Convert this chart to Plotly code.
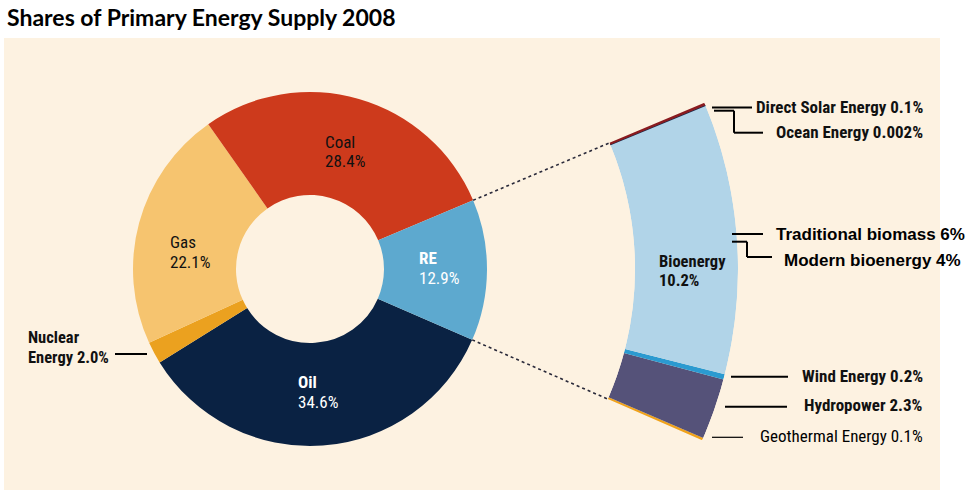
import math
import plotly.graph_objects as go

# ---------------- data ----------------
title_text = "Shares of Primary Energy Supply 2008"

main_labels = ["Oil", "Nuclear Energy", "Gas", "Coal", "RE"]
main_values = [34.6, 2.0, 22.1, 28.4, 12.9]
main_colors = ["#0a2243", "#eba11f", "#f6c46f", "#cd3a1c", "#5da9cf"]

re_labels = ["Geothermal Energy", "Hydropower", "Wind Energy", "Bioenergy", "Ocean Energy", "Direct Solar Energy"]
re_values = [0.1, 2.3, 0.2, 10.2, 0.002, 0.1]
re_colors = ["#f0a21a", "#555279", "#2b9ad0", "#b1d4e8", "#1b2a4a", "#8a1b1f"]

bio_labels = ["Traditional biomass", "Modern bioenergy"]
bio_values = [6, 4]

# ---------------- layout geometry ----------------
W, H = 972, 491
CX, CY = 310, 269          # common centre of donut and zoom arc (px)
R_OUT = 177                # donut outer radius
R_HOLE = 74                # donut hole radius
ARC_IN, ARC_OUT = 325, 428 # zoom-arc radii
DEG_PER_PCT = 3.6
RE_START = -23.6           # math angle (deg) of RE / Oil boundary

BG = "#fdf2e1"
COND = "Liberation Sans Narrow, Arial Narrow, Roboto Condensed, DejaVu Sans Condensed, sans-serif"
ARIAL = "Liberation Sans, Arial, sans-serif"

fig = go.Figure()

# donut
fig.add_trace(go.Pie(
    labels=main_labels, values=main_values, sort=False,
    direction="clockwise", rotation=90 - RE_START,
    hole=R_HOLE / R_OUT,
    marker=dict(colors=main_colors, line=dict(width=0)),
    textinfo="none", hoverinfo="label+value", showlegend=False,
    domain=dict(x=[(CX - R_OUT) / W, (CX + R_OUT) / W],
                y=[(H - CY - R_OUT) / H, (H - CY + R_OUT) / H]),
))

# zoom arc as polar bars
thetas, widths = [], []
cum = 0.0
for v in re_values:
    thetas.append(RE_START + (cum + v / 2) * DEG_PER_PCT)
    widths.append(v * DEG_PER_PCT)
    cum += v
line_w = [1.2 if lab == "Ocean Energy" else 0 for lab in re_labels]
fig.add_trace(go.Barpolar(
    theta=thetas, width=widths, r=[1] * len(re_values),
    marker=dict(color=re_colors, line=dict(width=line_w, color="#1b2a4a")),
    text=re_labels, hoverinfo="text", showlegend=False, subplot="polar",
))

SECT = 26
sb = math.sin(math.radians(SECT))
fig.update_layout(
    polar=dict(
        domain=dict(x=[CX / W, (CX + ARC_OUT) / W],
                    y=[(H - CY - sb * ARC_OUT) / H, (H - CY + sb * ARC_OUT) / H]),
        sector=[-SECT, SECT], hole=ARC_IN / ARC_OUT,
        bgcolor="rgba(0,0,0,0)",
        radialaxis=dict(visible=False, range=[0, 1]),
        angularaxis=dict(visible=False, rotation=0, direction="counterclockwise"),
    )
)

# hidden pixel-like cartesian axes for annotations & leader lines
fig.update_layout(
    xaxis=dict(range=[0, W], visible=False, fixedrange=True),
    yaxis=dict(range=[H, 0], visible=False, fixedrange=True),
)

shapes = []
# background panel
shapes.append(dict(type="rect", xref="paper", yref="paper", x0=4 / W, x1=940 / W,
                   y0=(H - 490) / H, y1=(H - 38) / H, fillcolor=BG, line=dict(width=0), layer="below"))

# dotted connectors from RE slice to zoom arc
re_end = RE_START + main_values[-1] * DEG_PER_PCT
for ang in (re_end, RE_START):
    a = math.radians(ang)
    shapes.append(dict(type="line", xref="x", yref="y",
                       x0=CX + R_OUT * math.cos(a), y0=CY - R_OUT * math.sin(a),
                       x1=CX + ARC_IN * math.cos(a), y1=CY - ARC_IN * math.sin(a),
                       line=dict(color="#2a2a3a", width=1.6, dash="dot")))

def seg(pts, w=2):
    for (x0, y0), (x1, y1) in zip(pts[:-1], pts[1:]):
        shapes.append(dict(type="line", xref="x", yref="y", x0=x0, y0=y0, x1=x1, y1=y1,
                           line=dict(color="black", width=w)))

seg([(115, 354), (147, 354)])                                   # nuclear
seg([(712, 107.5), (752, 107.5)])                               # direct solar
seg([(714, 110.7), (734, 110.7), (734, 132.7), (763, 132.7)])   # ocean
seg([(732, 234), (763, 234)])                                   # traditional
seg([(732, 241.7), (747, 241.7), (747, 257), (772, 257)])       # modern
seg([(731, 376.7), (788, 376.7)])                               # wind
seg([(725, 406.7), (787, 406.7)])                               # hydro
seg([(712, 437.3), (743, 437.3)], w=1.2)                        # geothermal
fig.update_layout(shapes=shapes)

ann = []
def txt(x, y, s, size=17, color="#111", family=COND, anchor="left", bold=False):
    ann.append(dict(x=x, y=y, xref="x", yref="y", text=f"<b>{s}</b>" if bold else s,
                    showarrow=False, xanchor=anchor, yanchor="middle",
                    font=dict(size=size, color=color, family=family)))

def pct(v):
    return f"{v}%"

vals = dict(zip(main_labels, main_values))
rev = dict(zip(re_labels, re_values))

txt(323, 141.7, "Coal"); txt(323, 161, pct(vals["Coal"]))
txt(167.5, 241.7, "Gas"); txt(167.5, 261.7, pct(vals["Gas"]))
txt(416.5, 257.5, "RE", color="white", bold=True); txt(416.5, 277.7, pct(vals["RE"]), color="white")
txt(295.5, 382, "Oil", color="white", bold=True); txt(295.5, 401.7, pct(vals["Oil"]), color="white")
txt(26, 337.3, "Nuclear", bold=True, size=16.5); txt(26, 357.3, "Energy " + pct(vals["Nuclear Energy"]), bold=True, size=16.5)
txt(657, 261.7, "Bioenergy", bold=True, size=16.5); txt(657, 280.7, pct(rev["Bioenergy"]), bold=True, size=16.5)

RX = 925
txt(RX, 106.7, "Direct Solar Energy " + pct(rev["Direct Solar Energy"]), anchor="right", bold=True)
txt(RX, 131.7, "Ocean Energy " + pct(rev["Ocean Energy"]), anchor="right", bold=True)
txt(RX, 375.7, "Wind Energy " + pct(rev["Wind Energy"]), anchor="right", bold=True)
txt(RX, 405, "Hydropower " + pct(rev["Hydropower"]), anchor="right", bold=True)
txt(RX, 435.7, "Geothermal Energy " + pct(rev["Geothermal Energy"]), anchor="right", color="black")
txt(774, 234, f"{bio_labels[0]} {bio_values[0]}%", size=17, family=ARIAL, bold=True, color="black")
txt(782, 260, f"{bio_labels[1]} {bio_values[1]}%", size=17, family=ARIAL, bold=True, color="black")

ann.append(dict(x=5 / W, y=(H - 17) / H, xref="paper", yref="paper", text=f"<b>{title_text}</b>",
                showarrow=False, xanchor="left", yanchor="middle",
                font=dict(size=23, color="black", family="Lato, Open Sans, sans-serif")))
fig.update_layout(annotations=ann)

fig.update_layout(
    width=W, height=H, margin=dict(l=0, r=0, t=0, b=0),
    paper_bgcolor="white", plot_bgcolor="rgba(0,0,0,0)", showlegend=False,
)

fig.write_html("out.html", config={"displayModeBar": False},
               post_script="document.body.style.margin='0';document.body.style.padding='0';"
                           "document.documentElement.style.overflow='hidden';")
